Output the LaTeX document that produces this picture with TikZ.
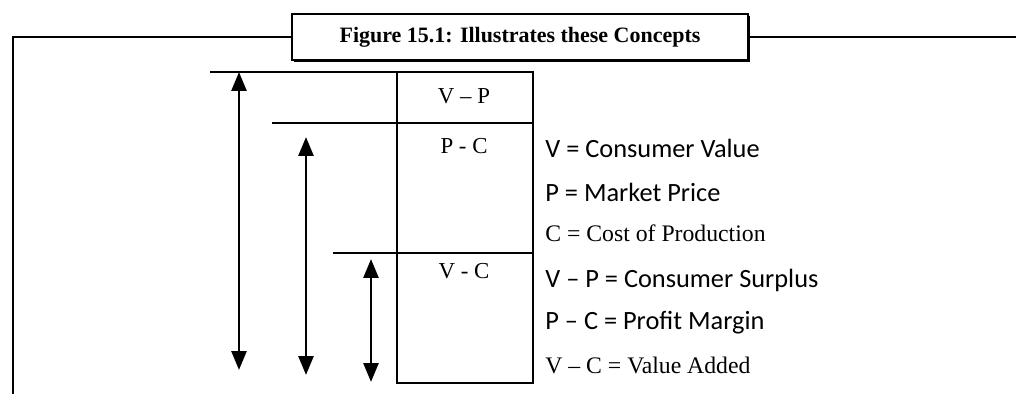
\documentclass[tikz,border=0pt]{standalone}
\usepackage{fontspec}
\setmainfont{Liberation Serif}
\newfontfamily\calibri{Carlito}
\usetikzlibrary{arrows.meta}
\usetikzlibrary{shadows}
\tikzset{
	framestyle/.style={line width=1.1pt},
	titlestyle/.style={rectangle,draw=black,line width=1pt,fill=white,minimum width=9.12cm,minimum height=0.92cm,font=\bfseries\fontsize{12.5}{14}\selectfont,drop shadow={shadow xshift=1pt,shadow yshift=-1.2pt,opacity=1,fill=black}},
	cellstyle/.style={inner sep=0pt,font=\fontsize{13}{15}\selectfont},
	sansstyle/.style={anchor=west,inner sep=0pt,font=\calibri\fontsize{15}{17}\selectfont},
	serifstyle/.style={anchor=west,inner sep=0pt,font=\fontsize{13.5}{15}\selectfont},
	boxstyle/.style={line width=1.1pt},
	spanstyle/.style={line width=1.6pt,{Triangle[width=8.5pt,length=10.8pt]}-{Triangle[width=8.5pt,length=10.8pt]}}
}

\begin{document}
\begin{tikzpicture}[x=0.02cm,y=-0.02cm]
	\useasboundingbox (0,0) rectangle (1016,394);
	% title and frame
	\node[titlestyle] (title) at (520,37) {Figure 15.1: Illustrates these Concepts};
	\coordinate (ftl) at (13,37);
	\coordinate (fbl) at (13,394);
	\coordinate (ftr) at (1016,37);
	\draw[framestyle] (title.west |- ftl) -- (ftl) -- (fbl);
	\draw[framestyle] (title.east |- ftr) -- (ftr);
	% value box
	\draw[boxstyle] (397,72) rectangle (533,383);
	\draw[boxstyle] (210,72) -- (397,72);
	\draw[boxstyle] (272,123) -- (533,123);
	\draw[boxstyle] (333,253) -- (533,253);
	\node[cellstyle] (vp) at (464,96) {V – P};
	\node[cellstyle] (pc) at (464,146) {P - C};
	\node[cellstyle] (vc) at (464,271) {V - C};
	% spans
	\coordinate (s1t) at (239,72);
	\coordinate (s1b) at (239,370);
	\coordinate (s2t) at (306,137);
	\coordinate (s2b) at (306,375);
	\coordinate (s3t) at (371,259);
	\coordinate (s3b) at (371,382);
	\draw[spanstyle] (s1t) -- (s1b);
	\draw[spanstyle] (s2t) -- (s2b);
	\draw[spanstyle] (s3t) -- (s3b);
	% legend
	\node[sansstyle] (lv) at (545,148) {V = Consumer Value};
	\node[sansstyle] (lp) at (545,192) {P = Market Price};
	\node[serifstyle] (lc) at (545,233) {C = Cost of Production};
	\node[sansstyle] (lvp) at (545,280) {V – P = Consumer Surplus};
	\node[sansstyle] (lpc) at (545,323) {P – C = Profit Margin};
	\node[serifstyle] (lvc) at (545,365) {V – C = Value Added};
\end{tikzpicture}
\end{document}
